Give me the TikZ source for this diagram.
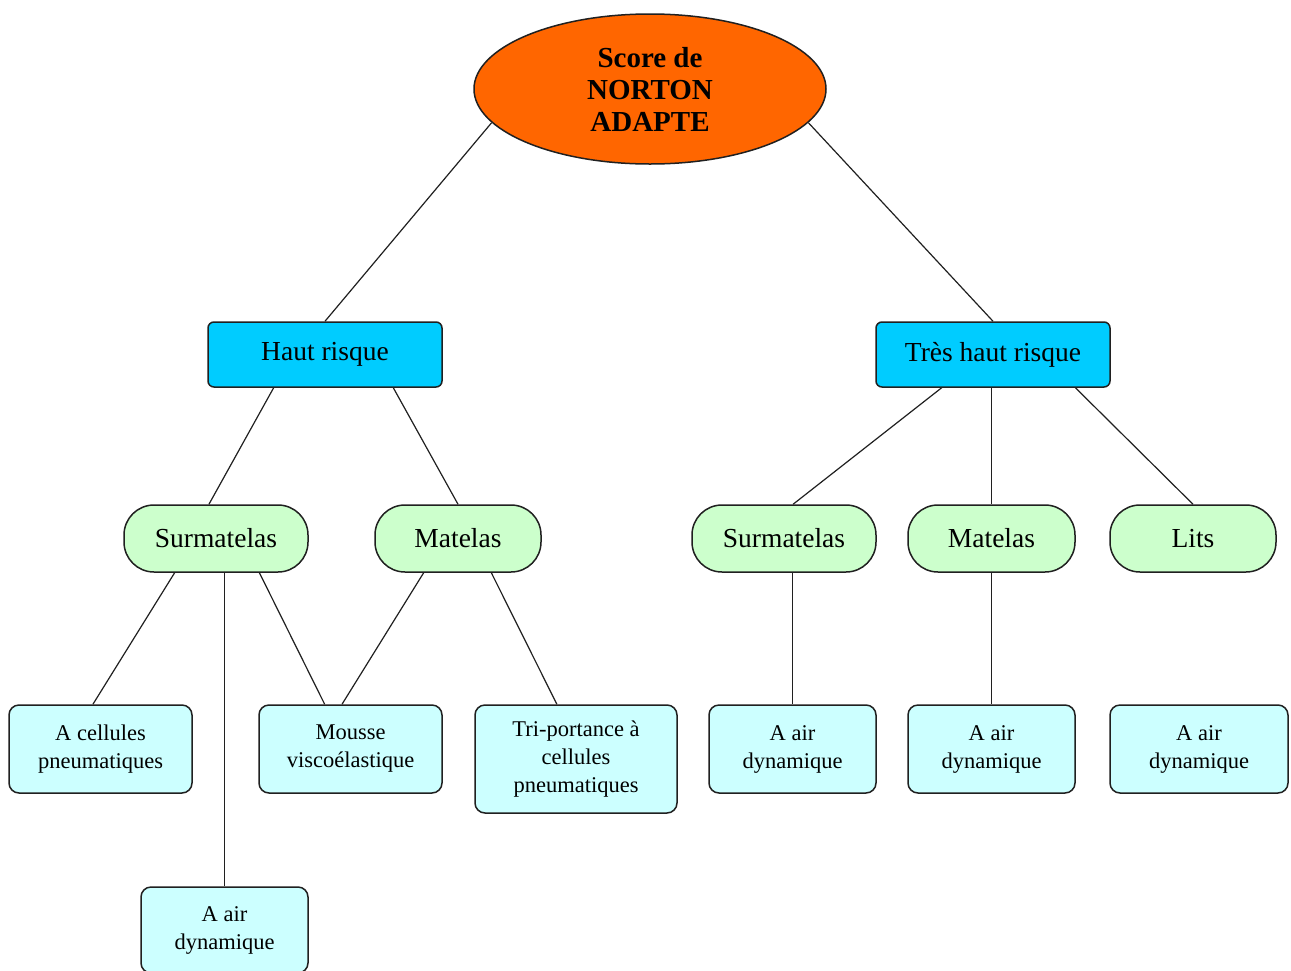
\documentclass[tikz,border=0pt]{standalone}
\usepackage{fontspec}
\setmainfont{Liberation Serif}
\usetikzlibrary{shapes.geometric,calc}
\definecolor{orng}{HTML}{FF6600}
\definecolor{cyanbox}{HTML}{00CCFF}
\definecolor{greenbox}{HTML}{CCFFCC}
\definecolor{leafbox}{HTML}{CCFFFF}
\definecolor{edge}{HTML}{202020}
\tikzset{
  root/.style={ellipse, draw=edge, line width=1.5pt, fill=orng, minimum width=352pt, minimum height=150pt, inner sep=0pt, align=center, font=\bfseries\fontsize{29}{32}\selectfont},
  lvl/.style={draw=edge, line width=1.5pt, fill=cyanbox, rounded corners=6pt, minimum width=234pt, minimum height=65pt, inner sep=0pt, font=\fontsize{27.5}{32}\selectfont},
  pill/.style={draw=edge, line width=1.5pt, fill=greenbox, rounded corners=30pt, minimum height=67pt, inner sep=0pt, font=\fontsize{27.5}{32}\selectfont},
  leaf/.style={draw=edge, line width=1.5pt, fill=leafbox, rounded corners=10pt, minimum height=88pt, inner sep=0pt, align=center, font=\fontsize{22.5}{28}\selectfont},
  conn/.style={draw=edge, line width=1.2pt}
}
\begin{document}
\begin{tikzpicture}[x=1pt,y=-1pt]
\useasboundingbox[fill=white] (0,0) rectangle (1291,970);
% nodes
\node[root] (root) at (650,89) {Score de\\NORTON\\ADAPTE};
\node[lvl] (hr) at (325,354.5) {Haut risque};
\node[lvl] (thr) at (993,354.5) {Très haut risque};
\node[pill, minimum width=184pt] (sL) at (216,538.5) {Surmatelas};
\node[pill, minimum width=166pt] (mL) at (458,538.5) {Matelas};
\node[pill, minimum width=184pt] (sR) at (784,538.5) {Surmatelas};
\node[pill, minimum width=167pt] (mR) at (991.5,538.5) {Matelas};
\node[pill, minimum width=166pt] (lits) at (1193,538.5) {Lits};
\node[leaf, minimum width=183pt] (cell) at (100.5,749) {A cellules\\pneumatiques};
\node[leaf, minimum width=183pt] (mousse) at (350.5,749) {Mousse\\viscoélastique};
\node[leaf, minimum width=202pt, minimum height=108pt] (tri) at (576,759) {Tri-portance à\\cellules\\pneumatiques};
\node[leaf, minimum width=167pt] (a1) at (792.5,749) {A air\\dynamique};
\node[leaf, minimum width=167pt] (a2) at (991.5,749) {A air\\dynamique};
\node[leaf, minimum width=178pt] (a3) at (1199,749) {A air\\dynamique};
\node[leaf, minimum width=167pt, minimum height=86pt] (ab) at (224.5,930) {A air\\dynamique};
% connectors
\draw[conn] (root.192) -- (hr.north);
\draw[conn] (root.348) -- (thr.north);
\draw[conn] ($(hr.south west)!0.282!(hr.south east)$) -- ($(sL.north west)!0.462!(sL.north east)$);
\draw[conn] ($(hr.south west)!0.79!(hr.south east)$) -- (mL.north);
\draw[conn] ($(thr.south west)!0.282!(thr.south east)$) -- ($(sR.north west)!0.549!(sR.north east)$);
\draw[conn] (mR.north |- thr.south) -- (mR.north);
\draw[conn] ($(thr.south west)!0.85!(thr.south east)$) -- (lits.north);
\draw[conn] ($(sL.south west)!0.277!(sL.south east)$) -- ($(cell.north west)!0.459!(cell.north east)$);
\draw[conn] (ab.north |- sL.south) -- (ab.north);
\draw[conn] ($(sL.south west)!0.734!(sL.south east)$) -- ($(mousse.north west)!0.36!(mousse.north east)$);
\draw[conn] ($(mL.south west)!0.295!(mL.south east)$) -- ($(mousse.north west)!0.454!(mousse.north east)$);
\draw[conn] ($(mL.south west)!0.699!(mL.south east)$) -- ($(tri.north west)!0.406!(tri.north east)$);
\draw[conn] (a1.north |- sR.south) -- (a1.north);
\draw[conn] (a2.north |- mR.south) -- (a2.north);
\draw[conn] ($(a3.north west)!0.556!(a3.north east)$ |- lits.south) -- ($(a3.north west)!0.556!(a3.north east)$);
\end{tikzpicture}
\end{document}
